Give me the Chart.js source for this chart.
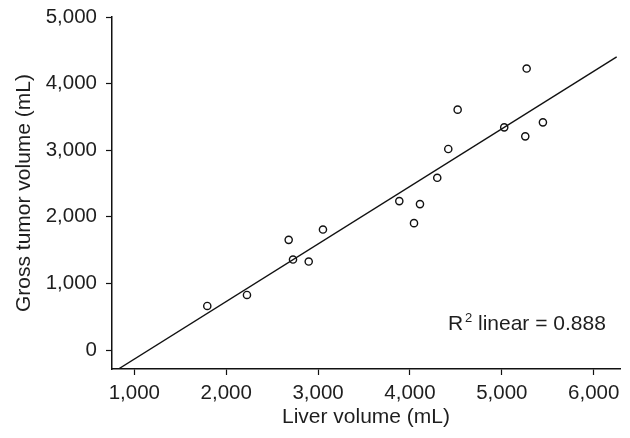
<!DOCTYPE html>
<html>
<head>
<meta charset="utf-8">
<script src="https://cdn.jsdelivr.net/npm/chart.js@4.4.1/dist/chart.umd.min.js"></script>
<style>
  html, body { margin: 0; padding: 0; background: #fff; }
  #wrap { width: 630px; height: 438px; }
</style>
</head>
<body>
<div id="wrap"><canvas id="myChart" width="630" height="438"></canvas></div>
<script>
// liver volume (mL) vs gross tumor volume (mL)
var liverVol = [1794, 2226, 2680, 2727, 2898, 3053, 3884, 4044, 4109, 4297, 4417, 4519, 5026, 5255, 5270, 5447];
var tumorVol = [662, 827, 1654, 1358, 1328, 1809, 2236, 1905, 2191, 2586, 3018, 3609, 3343, 3208, 4226, 3418];

// fitted line end points
var fitX = [827, 6250];
var fitY = [-285, 4401];

var xTicks = [1000, 2000, 3000, 4000, 5000, 6000];
var yTicks = [0, 1000, 2000, 3000, 4000, 5000];
var xRange = [757, 6286];
var yRange = [-285, 5000];

var rSquared = "0.888";

var textColor = "#1e1e1e";
var fontFam = "'Liberation Sans', Arial, Helvetica, sans-serif";

var points = liverVol.map(function(v, i) { return { x: v, y: tumorVol[i] }; });
var fitLine = fitX.map(function(v, i) { return { x: v, y: fitY[i] }; });

var fmt = function(v) { return v.toLocaleString("en-US"); };

// R^2 note in lower right of the plot
var r2Label = {
    id: "r2Label",
    afterDraw: function(chart) {
        var ctx = chart.ctx;
        var a = chart.chartArea;
        var x = a.right - 172, y = a.bottom - 39;
        ctx.save();
        ctx.fillStyle = textColor;
        ctx.textBaseline = "alphabetic";
        ctx.textAlign = "left";
        ctx.font = "21px " + fontFam;
        ctx.fillText("R", x, y);
        ctx.font = "13px " + fontFam;
        ctx.fillText("2", x + 17, y - 8);
        ctx.font = "21px " + fontFam;
        ctx.fillText("linear = " + rSquared, x + 30, y);
        ctx.restore();
    }
};

const chart = new Chart("myChart", {
    type: "scatter",
    data: {
        datasets: [{
            data: fitLine,
            showLine: true,
            borderColor: "#111",
            borderWidth: 1.4,
            pointRadius: 0,
            order: 2
        }, {
            data: points,
            pointStyle: "circle",
            pointRadius: 3.6,
            borderWidth: 1.4,
            borderColor: "#111",
            backgroundColor: "rgba(0,0,0,0)",
            order: 1
        }]
    },
    options: {
        responsive: false,
        animation: false,
        layout: { padding: { top: 17, right: 10, left: 0, bottom: 0 } },
        plugins: {
            legend: { display: false },
            tooltip: { enabled: false }
        },
        scales: {
            x: {
                type: "linear",
                min: xRange[0],
                max: xRange[1],
                afterBuildTicks: function(s) { s.ticks = xTicks.map(function(v) { return { value: v }; }); },
                afterFit: function(s) { s.height = 69; },
                grid: { drawOnChartArea: false, tickLength: 6, color: "#111", tickWidth: 1.2 },
                border: { color: "#111", width: 1.5 },
                ticks: {
                    color: textColor,
                    padding: 6,
                    maxRotation: 0,
                    font: { family: fontFam, size: 20.5 },
                    callback: function(v) { return fmt(v); }
                },
                title: {
                    display: true,
                    text: "Liver volume (mL)",
                    color: textColor,
                    padding: { top: 0, bottom: 8 },
                    font: { family: fontFam, size: 21 }
                }
            },
            y: {
                type: "linear",
                min: yRange[0],
                max: yRange[1],
                afterBuildTicks: function(s) { s.ticks = yTicks.map(function(v) { return { value: v }; }); },
                afterFit: function(s) { s.width = 112; s.paddingTop = 0; },
                grid: { drawOnChartArea: false, tickLength: 6, color: "#111", tickWidth: 1.2 },
                border: { color: "#111", width: 1.5 },
                ticks: {
                    color: textColor,
                    padding: 9,
                    font: { family: fontFam, size: 20.5 },
                    callback: function(v) { return fmt(v); }
                },
                title: {
                    display: true,
                    text: "Gross tumor volume (mL)",
                    color: textColor,
                    padding: { top: 12, bottom: 0 },
                    font: { family: fontFam, size: 21 }
                }
            }
        }
    },
    plugins: [r2Label]
});
</script>
</body>
</html>
